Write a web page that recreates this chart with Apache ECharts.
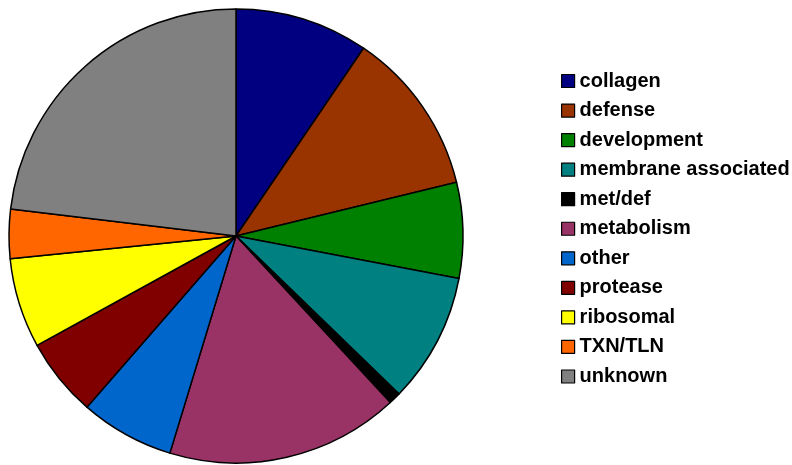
<!DOCTYPE html>
<html>
<head>
<meta charset="utf-8">
<script src="https://cdn.jsdelivr.net/npm/echarts@6/dist/echarts.min.js"></script>
<style>
  html, body { margin: 0; padding: 0; background: #ffffff; }
  #chart { width: 792px; height: 465px; }
</style>
</head>
<body>
<div id="chart"></div>
<script>
// Functional categories (percent of total)
const categories = ['collagen', 'defense', 'development', 'membrane associated', 'met/def',
  'metabolism', 'other', 'protease', 'ribosomal', 'TXN/TLN', 'unknown'];
const shares = [9.5, 11.7, 6.8, 9.25, 0.86, 16.6, 6.7, 5.6, 6.4, 3.5, 23.1];
const colors = ['#000080', '#993300', '#008000', '#008080', '#000000',
  '#993366', '#0066CC', '#800000', '#FFFF00', '#FF6600', '#808080'];

const chart = echarts.init(document.getElementById('chart'), null, { renderer: 'canvas' });

chart.setOption({
  animation: false,
  color: colors,
  legend: {
    orient: 'vertical',
    left: 561,
    top: 71,
    padding: 0,
    itemWidth: 13,
    itemHeight: 13,
    itemGap: 9.55,
    icon: 'rect',
    itemStyle: { borderColor: '#000', borderWidth: 1.2 },
    textStyle: {
      fontFamily: 'Liberation Sans, Arial, sans-serif',
      fontWeight: 'bold',
      fontSize: 20,
      lineHeight: 20,
      color: '#000'
    },
    data: categories
  },
  series: [{
    type: 'pie',
    center: [236, 236],
    radius: [0, 227],
    startAngle: 90,
    clockwise: true,
    label: { show: false },
    labelLine: { show: false },
    emphasis: { disabled: true },
    itemStyle: { borderColor: '#000', borderWidth: 1.5 },
    data: categories.map((name, i) => ({ name: name, value: shares[i] }))
  }]
});
</script>
</body>
</html>
